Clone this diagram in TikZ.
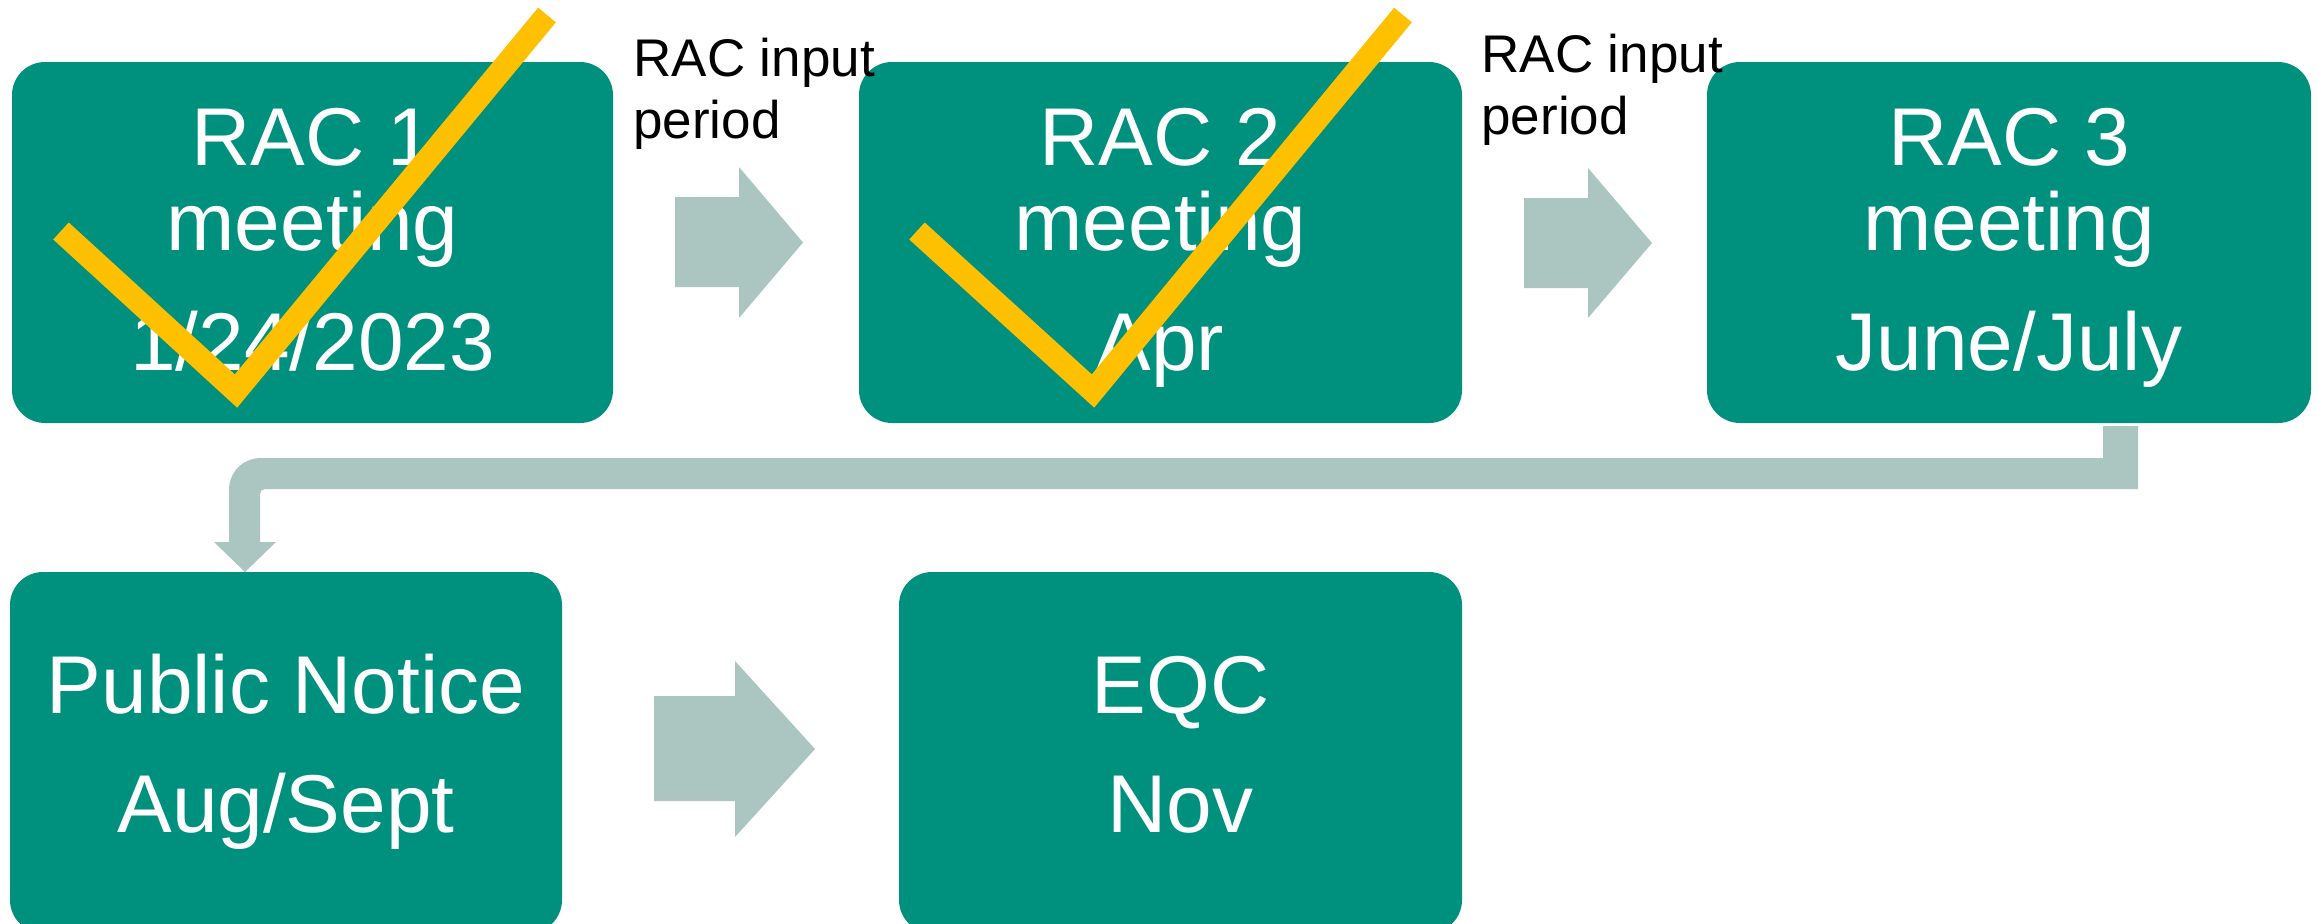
\documentclass[tikz,border=0pt]{standalone}
\usepackage{fontspec}
\setmainfont{Liberation Sans}
\usetikzlibrary{calc}
\definecolor{boxteal}{RGB}{0,145,126}
\definecolor{arrowgray}{RGB}{171,198,192}
\definecolor{checkyellow}{RGB}{255,192,0}
\begin{document}
\begin{tikzpicture}[x=0.5pt,y=-0.5pt,
  stagebox/.style={fill=boxteal, draw=none, rounded corners=16.5pt, inner sep=0pt, minimum height=180.5pt},
  boxtext/.style={text=white, font=\fontsize{41}{49}\selectfont, inner sep=0pt, anchor=base},
  labeltext/.style={text=black, font=\fontsize{26.5}{31}\selectfont, inner sep=0pt, anchor=base west},
  blockarrow/.style={fill=arrowgray, draw=none},
  checkmark/.style={draw=checkyellow, line width=11.5pt, line join=miter, line cap=butt}]
\useasboundingbox (0,0) rectangle (2318,923);
\clip (0,0) rectangle (2318,923);
\fill[white] (0,0) rectangle (2318,923);

% boxes
\node[stagebox, minimum width=300.5pt] (r1) at (312.5,242.5) {};
\node[stagebox, minimum width=301.5pt] (r2) at (1160.5,242.5) {};
\node[stagebox, minimum width=302pt] (r3) at (2009,242.5) {};
\node[stagebox, minimum width=276pt] (pn) at (286,752.5) {};
\node[stagebox, minimum width=281.5pt] (eqc) at (1180.5,752.5) {};

% box texts
\node[boxtext] (r1a) at ([yshift=-52pt]r1.north) {RAC 1};
\node[boxtext] (r1b) at ([yshift=-94.5pt]r1.north) {meeting};
\node[boxtext] (r1c) at ([yshift=-154.5pt]r1.north) {1/24/2023};
\node[boxtext] (r2a) at ([yshift=-52pt]r2.north) {RAC 2};
\node[boxtext] (r2b) at ([yshift=-94.5pt]r2.north) {meeting};
\node[boxtext] (r2c) at ([yshift=-154.5pt]r2.north) {Apr};
\node[boxtext] (r3a) at ([yshift=-52pt]r3.north) {RAC 3};
\node[boxtext] (r3b) at ([yshift=-94.5pt]r3.north) {meeting};
\node[boxtext] (r3c) at ([yshift=-154.5pt]r3.north) {June/July};
\node[boxtext] (pna) at ([yshift=-71pt]pn.north) {Public Notice};
\node[boxtext] (pnb) at ([yshift=-130.5pt]pn.north) {Aug/Sept};
\node[boxtext] (eqca) at ([yshift=-71pt]eqc.north) {EQC};
\node[boxtext] (eqcb) at ([yshift=-130.5pt]eqc.north) {Nov};

% block arrows
\fill[blockarrow] (675,197) -- (739,197) -- (739,167) -- (803,242.5) -- (739,318) -- (739,287) -- (675,287) -- cycle;
\fill[blockarrow] (1524,198) -- (1588,198) -- (1588,168) -- (1652,243) -- (1588,318) -- (1588,288) -- (1524,288) -- cycle;
\fill[blockarrow] (654,696) -- (735,696) -- (735,661) -- (815,749) -- (735,837) -- (735,801) -- (654,801) -- cycle;

% bent arrow from RAC 3 to Public Notice
\fill[blockarrow] (2103,426) -- (2138,426) -- (2138,489) -- (265,489)
  .. controls (262,489) and (260,491) .. (260,494) -- (260,542) -- (276,542) -- (245,572) -- (214,542) -- (229,542)
  -- (229,490) .. controls (229,472) and (243,458) .. (261,458) -- (2103,458) -- cycle;

% labels
\node[labeltext] (l1a) at (633,76) {RAC input};
\node[labeltext] (l1b) at (633,138) {period};
\node[labeltext] (l2a) at (1481,72) {RAC input};
\node[labeltext] (l2b) at (1481,134) {period};

% check marks
\draw[checkmark] (61,231) -- (236,391) -- (547,15);
\draw[checkmark] (917,231) -- (1093,391) -- (1403,15);
\end{tikzpicture}
\end{document}
